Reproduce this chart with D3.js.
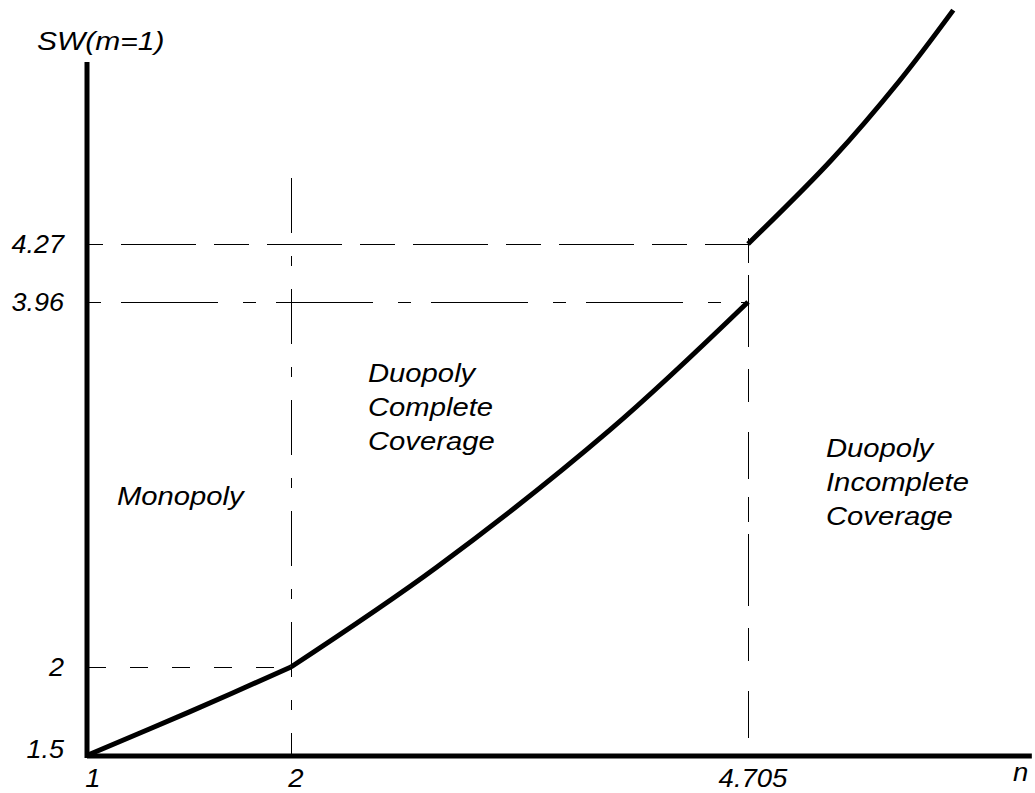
<!DOCTYPE html>
<html>
<head>
<meta charset="utf-8">
<script src="https://cdn.jsdelivr.net/npm/d3@7"></script>
<style>
  body { margin: 0; background: #fff; }
  svg { display: block; }
  text { font-family: "Liberation Sans", Arial, sans-serif; font-style: italic; fill: #000; }
</style>
</head>
<body>
<svg width="1035" height="793"></svg>
<script>
// tick values and labels
var xTicks = [1, 2, 4.705];
var xTickLabels = ["1", "2", "4.705"];
var yTicks = [1.5, 2, 3.96, 4.27];
var yTickLabels = ["1.5", "2", "3.96", "4.27"];

// the three pieces of the welfare curve
var monopolyN = [1, 1.5, 2];
var monopolySW = [1.5, 1.745, 2];
var completeN = [2, 2.864, 3.888, 4.705];
var completeSW = [2, 2.537, 3.273, 3.96];
var incompleteN = [4.705, 5.2, 5.6, 5.92];
var incompleteSW = [4.27, 4.72, 5.14, 5.52];

// axis extents
var nMax = 6.385;
var swMax = 5.243;

var svg = d3.select("svg");

// the picture is schematic, so both scales are piecewise
var x = d3.scaleLinear()
    .domain(xTicks)
    .range([88, 291, 748]);

var y = d3.scaleLinear()
    .domain(yTicks)
    .range([755, 667, 302, 244]);

function zip(a, b) {
  return a.map(function(d, i) { return [d, b[i]]; });
}

var line = d3.line()
    .x(function(d) { return x(d[0]); })
    .y(function(d) { return y(d[1]); })
    .curve(d3.curveCatmullRom);

// guide lines
var guides = svg.append("g")
    .attr("stroke", "#000")
    .attr("stroke-width", 1)
    .attr("fill", "none");

guides.append("line")
    .attr("x1", x(1)).attr("x2", x(4.705))
    .attr("y1", y(4.27) + 0.5).attr("y2", y(4.27) + 0.5)
    .attr("stroke-dasharray", "35,18,75,18")
    .attr("stroke-dashoffset", 20);

guides.append("line")
    .attr("x1", x(1)).attr("x2", x(4.705))
    .attr("y1", y(3.96) + 0.5).attr("y2", y(3.96) + 0.5)
    .attr("stroke-dasharray", "13,20,97,25");

guides.append("line")
    .attr("x1", x(1)).attr("x2", x(2))
    .attr("y1", y(2) + 0.5).attr("y2", y(2) + 0.5)
    .attr("stroke-dasharray", "18,24");

guides.append("line")
    .attr("x1", x(2) + 0.5).attr("x2", x(2) + 0.5)
    .attr("y1", 178).attr("y2", y(1.5))
    .attr("stroke-dasharray", "55,23,10,23");

guides.append("line")
    .attr("x1", x(4.705) + 0.5).attr("x2", x(4.705) + 0.5)
    .attr("y1", y(4.27) - 6).attr("y2", y(1.5))
    .attr("stroke-dasharray", "25,12,72,22,33,30,47,18");

// curve pieces
var curves = svg.append("g")
    .attr("fill", "none")
    .attr("stroke", "#000")
    .attr("stroke-width", 5)
    .attr("stroke-linejoin", "round");

curves.selectAll("path")
  .data([zip(monopolyN, monopolySW), zip(completeN, completeSW), zip(incompleteN, incompleteSW)])
  .enter().append("path")
    .attr("d", line);

// axes
svg.append("line")
    .attr("x1", x(1) - 1).attr("x2", x(nMax))
    .attr("y1", y(1.5) + 1).attr("y2", y(1.5) + 1)
    .attr("stroke", "#000").attr("stroke-width", 5);

svg.append("line")
    .attr("x1", x(1) - 1).attr("x2", x(1) - 1)
    .attr("y1", y(1.5) + 3).attr("y2", y(swMax))
    .attr("stroke", "#000").attr("stroke-width", 5);

// tick labels
svg.append("g")
    .attr("font-size", 25)
  .selectAll("text")
  .data(xTicks)
  .enter().append("text")
    .attr("text-anchor", "middle")
    .attr("transform", function(d) { return "translate(" + (x(d) + 5) + ",787) scale(1.1,1)"; })
    .text(function(d, i) { return xTickLabels[i]; });

svg.append("g")
    .attr("font-size", 25)
  .selectAll("text")
  .data(yTicks)
  .enter().append("text")
    .attr("text-anchor", "end")
    .attr("transform", function(d, i) {
      var off = i === 0 ? 3 : 9;
      return "translate(64," + (y(d) + off) + ") scale(1.08,1)";
    })
    .text(function(d, i) { return yTickLabels[i]; });

svg.append("text")
    .attr("font-size", 25)
    .attr("transform", "translate(1013,781) scale(1.1,1)")
    .text("n");

svg.append("text")
    .attr("font-size", 25)
    .attr("transform", "translate(37,50) scale(1.2,1)")
    .text("SW(m=1)");

// region labels
function block(lines, px, py) {
  var t = svg.append("text")
      .attr("font-size", 25)
      .attr("transform", "translate(" + px + "," + py + ") scale(1.17,1)");
  t.selectAll("tspan")
    .data(lines)
    .enter().append("tspan")
      .attr("x", 0)
      .attr("y", function(d, i) { return i * 34; })
      .text(function(d) { return d; });
}

block(["Monopoly"], 117, 505);
block(["Duopoly", "Complete", "Coverage"], 368, 382);
block(["Duopoly", "Incomplete", "Coverage"], 826, 457);
</script>
</body>
</html>
